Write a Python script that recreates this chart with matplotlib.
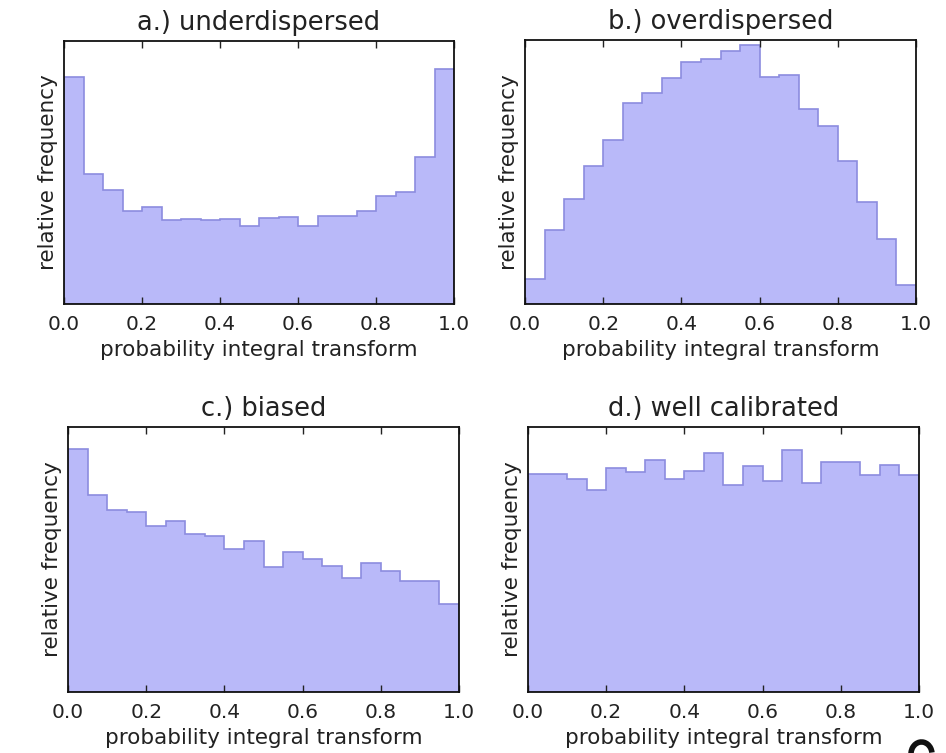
import matplotlib
matplotlib.use("Agg")
import matplotlib.pyplot as plt
from matplotlib.patches import Arc
import numpy as np

# bin edges for the probability integral transform (20 bins)
bin_edges = np.linspace(0.0, 1.0, 21)

# relative frequencies (scaled to axes height)
under_vals = [0.863, 0.494, 0.434, 0.355, 0.369, 0.319, 0.324, 0.321, 0.324, 0.297,
              0.326, 0.331, 0.298, 0.335, 0.334, 0.355, 0.411, 0.425, 0.560, 0.895]
over_vals = [0.095, 0.281, 0.399, 0.521, 0.622, 0.760, 0.801, 0.856, 0.918, 0.928,
             0.960, 0.981, 0.861, 0.866, 0.738, 0.675, 0.542, 0.387, 0.248, 0.073]
biased_vals = [0.918, 0.744, 0.688, 0.678, 0.625, 0.644, 0.597, 0.588, 0.540, 0.568,
               0.471, 0.529, 0.501, 0.475, 0.432, 0.485, 0.456, 0.420, 0.420, 0.332]
calib_vals = [0.824, 0.821, 0.802, 0.762, 0.846, 0.830, 0.874, 0.805, 0.835, 0.900,
              0.782, 0.852, 0.795, 0.912, 0.790, 0.869, 0.868, 0.819, 0.858, 0.817]

titles = ["a.) underdispersed", "b.) overdispersed", "c.) biased", "d.) well calibrated"]
xticks = [0.0, 0.2, 0.4, 0.6, 0.8, 1.0]

# axes boxes in figure fractions (left, bottom, width, height)
boxes = [
    [0.0677, 0.5963, 0.4123, 0.3493],
    [0.5550, 0.5963, 0.4133, 0.3506],
    [0.0719, 0.0810, 0.4133, 0.3520],
    [0.5581, 0.0810, 0.4133, 0.3520],
]

fig = plt.figure(figsize=(9.46, 7.53), dpi=100)
centers = 0.5 * (bin_edges[:-1] + bin_edges[1:])

for box, title, vals in zip(boxes, titles, [under_vals, over_vals, biased_vals, calib_vals]):
    ax = fig.add_axes(box)
    ax.hist(centers, bins=bin_edges, weights=vals, histtype="stepfilled",
            facecolor="#b9b9f9", edgecolor="#8c8cdf", linewidth=1.2)
    ax.set_xlim(0, 1)
    ax.set_ylim(0, 1)
    ax.set_yticks([])
    ax.set_xticks(xticks)
    ax.set_xticklabels([f"{t:.1f}" for t in xticks], fontsize=14.5)
    ax.tick_params(axis="x", direction="in", top=True, bottom=True, length=5,
                   width=1, pad=8, colors="#222222")
    ax.set_title(title, fontsize=18.5, pad=8, color="#222222")
    ax.set_xlabel("probability integral transform", fontsize=15.5, color="#222222")
    ax.set_ylabel("relative frequency", fontsize=15.5, color="#222222")
    for sp in ax.spines.values():
        sp.set_linewidth(1.3)
        sp.set_color("#111111")

# top of a cut-off letter at the lower right edge of the page
fig.patches.append(Arc((921.5 / 946, -1 / 753), 21 / 946, 24 / 753,
                       theta1=10, theta2=200, linewidth=4, color="#111111",
                       transform=fig.transFigure, figure=fig))

fig.savefig("out.png", dpi=100)
